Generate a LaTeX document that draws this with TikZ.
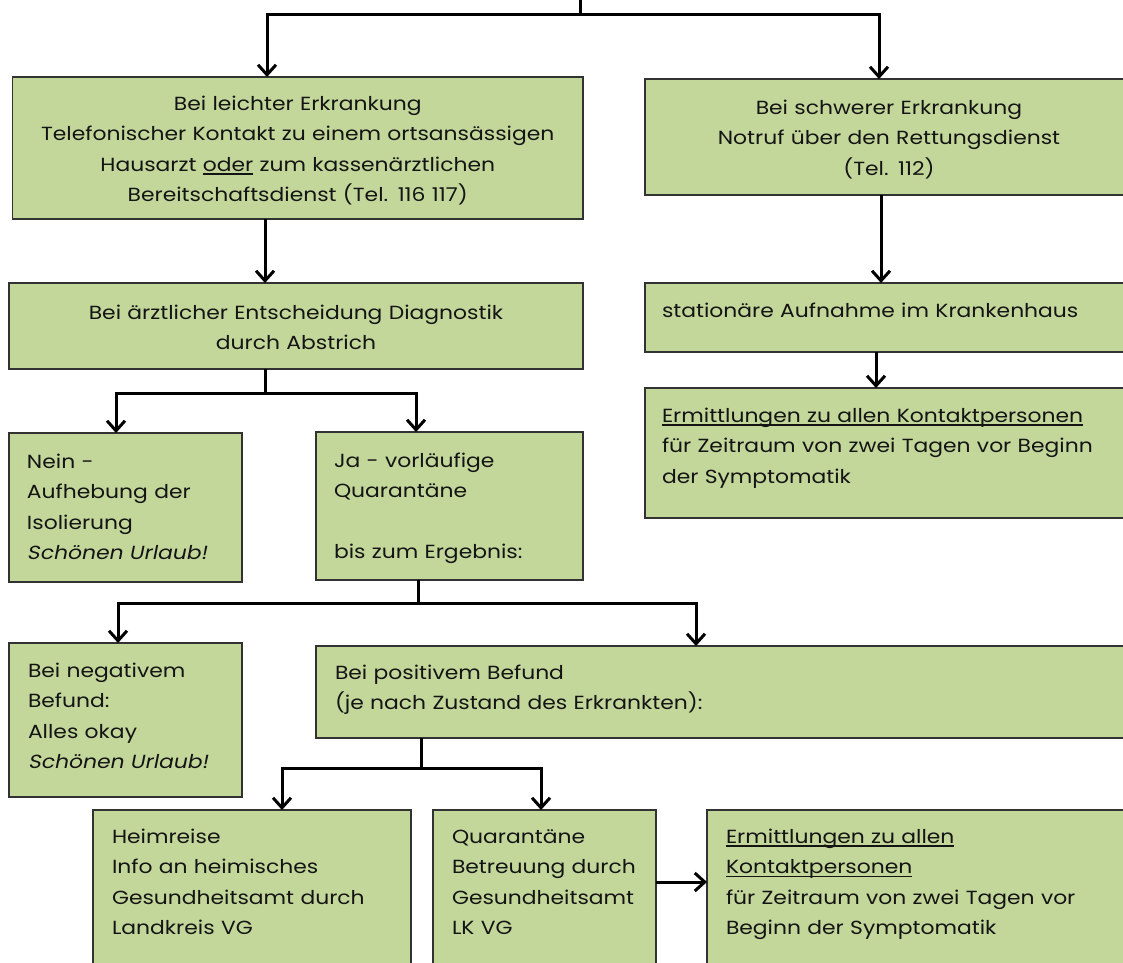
\documentclass[tikz,border=0pt]{standalone}
\usepackage{fontspec}
\setmainfont{Poppins}[FakeStretch=1.15]
\newfontfamily\slfont{Poppins}[FakeSlant=0.2,FakeStretch=1.15]
\usetikzlibrary{arrows.meta,calc}
\definecolor{boxgreen}{RGB}{196,215,155}
\definecolor{boxline}{RGB}{50,50,50}
\newsavebox\ulbox
\newcommand\myul[1]{\leavevmode\sbox\ulbox{#1}\rlap{\rule[-3.5pt]{\wd\ulbox}{1.2pt}}\usebox\ulbox}
\tikzset{
  box/.style={draw=boxline, line width=1.8pt, fill=boxgreen, rectangle, inner sep=0pt, outer sep=0pt, anchor=north west},
  txt/.style={inner sep=0pt, outer sep=0pt, font=\fontsize{19}{30.5}\selectfont, text=black!92},
  ltxt/.style={txt, anchor=base west, align=left, text width=#1},
  ctxt/.style={txt, anchor=base, align=center, text width=#1},
  arr/.style={draw=black, line width=3pt, -{Straight Barb[length=10pt,width=18pt]}},
  ln/.style={draw=black, line width=3pt}
}
\begin{document}
\begin{tikzpicture}[x=1pt,y=-1pt]
\useasboundingbox (0,0) rectangle (1123,962);
\clip (0,0) rectangle (1123,962);
% boxes
\node[box, minimum width=570.5pt, minimum height=142pt] (b1) at (12.5,77) {};
\node[box, minimum width=500pt, minimum height=116pt] (b2) at (645,79) {};
\node[box, minimum width=500pt, minimum height=69pt] (b3) at (645,283) {};
\node[box, minimum width=500pt, minimum height=130pt] (b4) at (645,388) {};
\node[box, minimum width=574pt, minimum height=86pt] (b5) at (9,283) {};
\node[box, minimum width=233pt, minimum height=149pt] (b6) at (9,433) {};
\node[box, minimum width=267pt, minimum height=148pt] (b7) at (316,432) {};
\node[box, minimum width=233pt, minimum height=154pt] (b8) at (9,643) {};
\node[box, minimum width=830pt, minimum height=92pt] (b9) at (316,646) {};
\node[box, minimum width=318pt, minimum height=170pt] (b10) at (93,810) {};
\node[box, minimum width=223pt, minimum height=170pt] (b11) at (433,810) {};
\node[box, minimum width=440pt, minimum height=170pt] (b12) at (707,810) {};
% texts
\node[ctxt=566pt] (t1) at (297.75,110) {Bei leichter Erkrankung\\Telefonischer Kontakt zu einem ortsansässigen\\Hausarzt \myul{oder} zum kassenärztlichen\\Bereitschaftsdienst (Tel. 116 117)};
\node[ctxt=480pt] (t2) at (889,114) {Bei schwerer Erkrankung\\Notruf über den Rettungsdienst\\(Tel. 112)};
\node[ltxt=470pt] (t3) at (662,317) {stationäre Aufnahme im Krankenhaus};
\node[ltxt=470pt] (t4) at (662,422) {\myul{Ermittlungen zu allen Kontaktpersonen}\\für Zeitraum von zwei Tagen vor Beginn\\der Symptomatik};
\node[ctxt=566pt] (t5) at (296,319) {Bei ärztlicher Entscheidung Diagnostik\\durch Abstrich};
\node[ltxt=215pt] (t6) at (27,468) {Nein -\\Aufhebung der\\Isolierung\\{\slfont Schönen Urlaub!}};
\node[ltxt=245pt] (t7) at (334,467) {Ja - vorläufige\\Quarantäne\\\mbox{}\\bis zum Ergebnis:};
\node[ltxt=215pt] (t8) at (28,677) {Bei negativem\\Befund:\\Alles okay\\{\slfont Schönen Urlaub!}};
\node[ltxt=700pt] (t9) at (335,679) {Bei positivem Befund\\(je nach Zustand des Erkrankten):};
\node[ltxt=295pt] (t10) at (112,843) {Heimreise\\Info an heimisches\\Gesundheitsamt durch\\Landkreis VG};
\node[ltxt=200pt] (t11) at (452,843) {Quarantäne\\Betreuung durch\\Gesundheitsamt\\LK VG};
\node[ltxt=400pt] (t12) at (726,843) {\myul{Ermittlungen zu allen}\\\myul{Kontaktpersonen}\\für Zeitraum von zwei Tagen vor\\Beginn der Symptomatik};
% connectors
\coordinate (top) at (580,-5);
\coordinate (j0) at (580,14);
\draw[ln] (top) -- (j0);
\draw[arr] (j0) -| ([xshift=254.5pt]b1.north west);
\draw[arr] (j0) -| ([xshift=234pt]b2.north west);
\draw[arr] ([xshift=252.5pt]b1.south west) -- ([xshift=256pt]b5.north west);
\draw[arr] ([xshift=236pt]b2.south west) -- ([xshift=236pt]b3.north west);
\draw[arr] ([xshift=231pt]b3.south west) -- ([xshift=231pt]b4.north west);
\coordinate (j1) at (265,393);
\draw[ln] ([xshift=256pt]b5.south west) -- (j1);
\draw[arr] (j1) -| ([xshift=107pt]b6.north west);
\draw[arr] (j1) -| ([xshift=100pt]b7.north west);
\coordinate (j2) at (418,603);
\draw[ln] ([xshift=102pt]b7.south west) -- (j2);
\draw[arr] (j2) -| ([xshift=109pt]b8.north west);
\draw[arr] (j2) -| ([xshift=380pt]b9.north west);
\coordinate (j3) at (421,768);
\draw[ln] ([xshift=105pt]b9.south west) -- (j3);
\draw[arr] (j3) -| ([xshift=189pt]b10.north west);
\draw[arr] (j3) -| ([xshift=108pt]b11.north west);
\draw[arr] ([yshift=-72pt]b11.north east) -- ([yshift=-72pt]b12.north west);
\end{tikzpicture}
\end{document}
